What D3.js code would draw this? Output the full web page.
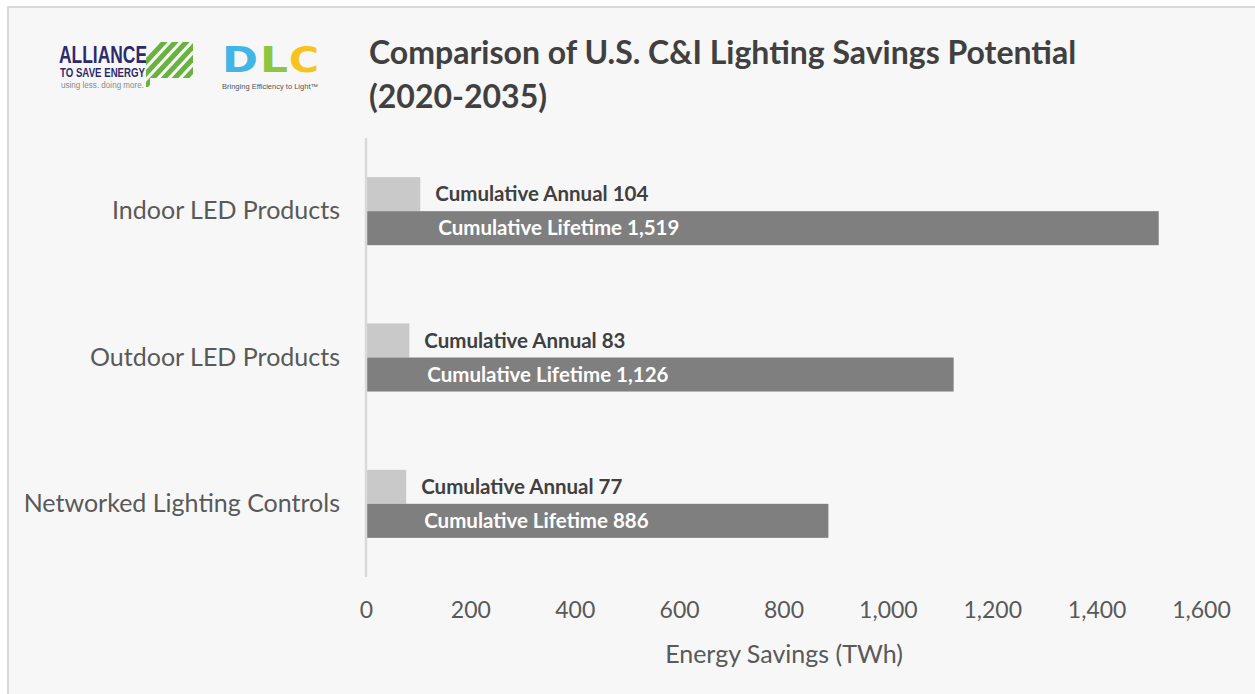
<!DOCTYPE html>
<html>
<head>
<meta charset="utf-8">
<script src="https://cdn.jsdelivr.net/npm/d3@7"></script>
<style>
  body { margin: 0; background: #fff; }
  svg { display: block; }
</style>
</head>
<body>
<svg id="chart"></svg>
<script>
const categories = ["Indoor LED Products", "Outdoor LED Products", "Networked Lighting Controls"];
const annualValues = [104, 83, 77];
const lifetimeValues = [1519, 1126, 886];
const xTicks = [0, 200, 400, 600, 800, 1000, 1200, 1400, 1600];
const titleLines = ["Comparison of U.S. C&I Lighting Savings Potential", "(2020-2035)"];

const W = 1255, H = 694;
const plot = { left: 366, right: 1201, top: 138, bottom: 577 };
const font = "Lato, 'Open Sans', sans-serif";

const svg = d3.select("#chart").attr("width", W).attr("height", H);

// frame
svg.append("rect").attr("x", 0).attr("y", 0).attr("width", W).attr("height", H).attr("fill", "#fff");
svg.append("rect")
    .attr("x", 8).attr("y", 7).attr("width", W + 20).attr("height", H + 20)
    .attr("fill", "#f7f7f7").attr("stroke", "#d9d9d9").attr("stroke-width", 2);

const x = d3.scaleLinear().domain([0, 1600]).range([plot.left, plot.right]);
const y = d3.scaleBand().domain(categories).range([plot.top, plot.bottom])
    .paddingInner(0.535).paddingOuter(0.2675);
const sub = d3.scaleBand().domain(["annual", "lifetime"]).range([0, y.bandwidth()]);

const rows = categories.map((c, i) => ({ cat: c, annual: annualValues[i], lifetime: lifetimeValues[i] }));

// bars
const g = svg.append("g");
g.selectAll(".annual").data(rows).enter().append("rect")
    .attr("x", x(0)).attr("y", d => y(d.cat) + sub("annual"))
    .attr("width", d => x(d.annual) - x(0)).attr("height", sub.bandwidth())
    .attr("fill", "#c9c9c9");
g.selectAll(".lifetime").data(rows).enter().append("rect")
    .attr("x", x(0)).attr("y", d => y(d.cat) + sub("lifetime"))
    .attr("width", d => x(d.lifetime) - x(0)).attr("height", sub.bandwidth())
    .attr("fill", "#7f7f7f");

// data labels
g.selectAll(".alabel").data(rows).enter().append("text")
    .attr("x", d => x(d.annual) + 15)
    .attr("y", d => y(d.cat) + sub("annual") + sub.bandwidth() / 2)
    .attr("dy", "0.35em")
    .attr("font-family", font).attr("font-weight", "bold").attr("font-size", 20.5)
    .attr("fill", "#404040")
    .text(d => "Cumulative Annual " + d3.format(",")(d.annual));
g.selectAll(".llabel").data(rows).enter().append("text")
    .attr("x", d => x(d.annual) + 18)
    .attr("y", d => y(d.cat) + sub("lifetime") + sub.bandwidth() / 2)
    .attr("dy", "0.35em")
    .attr("font-family", font).attr("font-weight", "bold").attr("font-size", 20.5)
    .attr("fill", "#ffffff")
    .text(d => "Cumulative Lifetime " + d3.format(",")(d.lifetime));

// vertical axis line
svg.append("line")
    .attr("x1", x(0)).attr("x2", x(0)).attr("y1", plot.top).attr("y2", plot.bottom)
    .attr("stroke", "#d9d9d9").attr("stroke-width", 2.5);

// category labels
const yAxis = svg.append("g")
    .attr("transform", `translate(${plot.left - 26},0)`)
    .call(d3.axisLeft(y).tickSize(0).tickPadding(0));
yAxis.select(".domain").remove();
yAxis.selectAll("text")
    .attr("font-family", font).attr("font-size", 25).attr("fill", "#595959");

// x axis
const xAxis = svg.append("g")
    .attr("transform", `translate(0,${plot.bottom})`)
    .call(d3.axisBottom(x).tickValues(xTicks).tickFormat(d3.format(",")).tickSize(0).tickPadding(25));
xAxis.select(".domain").remove();
xAxis.selectAll("text")
    .attr("font-family", font).attr("font-size", 23).attr("fill", "#595959");

svg.append("text")
    .attr("x", 784).attr("y", 663).attr("text-anchor", "middle")
    .attr("font-family", font).attr("font-size", 25).attr("fill", "#595959")
    .text("Energy Savings (TWh)");

// title
svg.append("g").selectAll("text").data(titleLines).enter().append("text")
    .attr("x", 369).attr("y", (d, i) => 64 + i * 44)
    .attr("font-family", font).attr("font-weight", "bold").attr("font-size", 32)
    .attr("fill", "#404040")
    .text(d => d);

// Alliance to Save Energy logo
const ase = svg.append("g");
ase.append("text").attr("x", 59).attr("y", 63)
    .attr("font-family", "'Liberation Sans Narrow', 'Liberation Sans', sans-serif")
    .attr("font-weight", "bold").attr("font-size", 24).attr("fill", "#2e2a6b")
    .attr("textLength", 88).attr("lengthAdjust", "spacingAndGlyphs")
    .text("ALLIANCE");
ase.append("text").attr("x", 60).attr("y", 77)
    .attr("font-family", "'Liberation Sans Narrow', 'Liberation Sans', sans-serif")
    .attr("font-weight", "bold").attr("font-size", 12).attr("fill", "#2e2a6b")
    .attr("textLength", 85).attr("lengthAdjust", "spacingAndGlyphs")
    .text("TO SAVE ENERGY");
ase.append("text").attr("x", 61).attr("y", 88)
    .attr("font-family", "'Liberation Sans Narrow', 'Liberation Sans', sans-serif")
    .attr("font-size", 8.5).attr("fill", "#8a8a8a")
    .attr("textLength", 83).attr("lengthAdjust", "spacingAndGlyphs")
    .text("using less. doing more.");
const defs = svg.append("defs");
defs.append("clipPath").attr("id", "aseclip")
    .append("polygon").attr("points", "150,42 193,42 193,78 150,78 150,87 146,87 146,42");
const stripes = ase.append("g").attr("clip-path", "url(#aseclip)");
d3.range(-2, 8).forEach(i => {
    stripes.append("line")
        .attr("x1", 140 + i * 11).attr("y1", 92)
        .attr("x2", 140 + i * 11 + 50).attr("y2", 38)
        .attr("stroke", "#6ab23e").attr("stroke-width", 5);
});

// DLC logo
const dlc = svg.append("g");
const dlcLetters = [["D", 222, 36, "#41b6e6"], ["L", 260, 28, "#8dc63f"], ["C", 289, 30, "#f8c31c"]];
dlcLetters.forEach(([t, lx, lw, c]) => {
    dlc.append("text").attr("x", lx).attr("y", 72)
        .attr("font-family", "'DejaVu Sans', sans-serif").attr("font-weight", "bold")
        .attr("font-size", 36).attr("fill", c)
        .attr("textLength", lw).attr("lengthAdjust", "spacingAndGlyphs")
        .text(t);
});
dlc.append("text").attr("x", 222).attr("y", 89)
    .attr("font-family", "'Liberation Sans', sans-serif").attr("font-size", 7)
    .attr("fill", "#555").attr("textLength", 96).attr("lengthAdjust", "spacingAndGlyphs")
    .text("Bringing Efficiency to Light\u2122");
</script>
</body>
</html>
